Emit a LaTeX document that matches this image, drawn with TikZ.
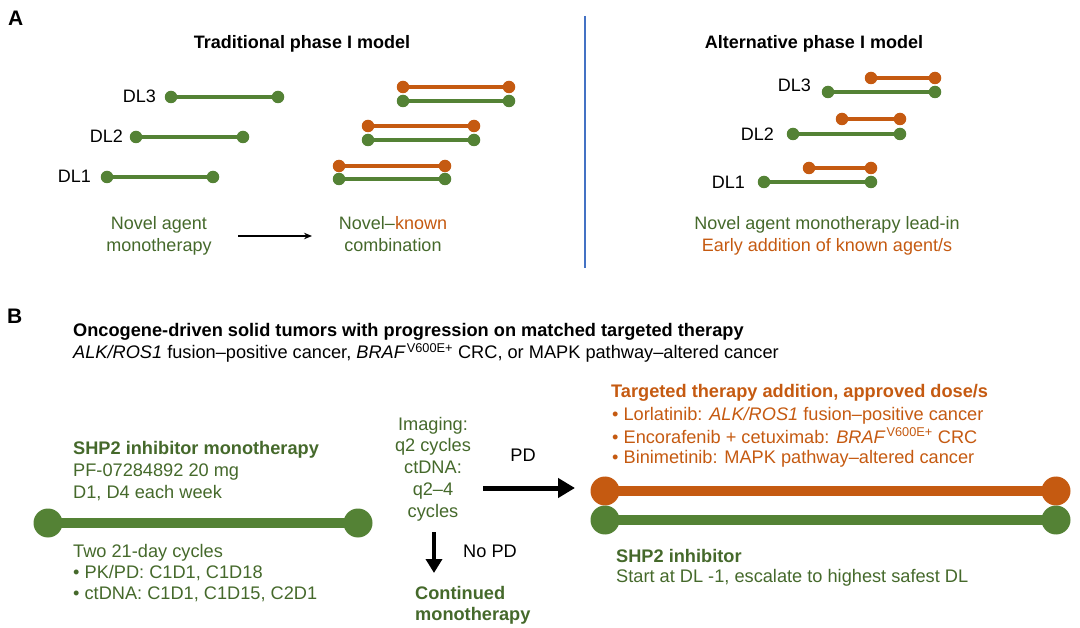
\documentclass[tikz,border=0pt]{standalone}
\usepackage{fontspec}
\setmainfont{Liberation Sans}
\usetikzlibrary{arrows.meta}
\definecolor{barg}{HTML}{548235}
\definecolor{baro}{HTML}{C55A11}
\definecolor{txtg}{HTML}{45692B}
\definecolor{txto}{HTML}{C55A11}
\definecolor{sepblue}{HTML}{4472C4}
\newcommand\dosebar[6]{%
  \coordinate (#1a) at (#2,#4);
  \coordinate (#1b) at (#3,#4);
  \draw[#6bar=#5] (#1a) -- (#1b);
  \node[#6dot=#5] (#1da) at (#1a) {};
  \node[#6dot=#5] (#1db) at (#1b) {};}
\begin{document}
\begin{tikzpicture}[x=1pt,y=-1pt,
  sdot/.style={circle,fill=#1,inner sep=0pt,minimum size=12.5pt},
  ldot/.style={circle,fill=#1,inner sep=0pt,minimum size=29pt},
  sbar/.style={draw=#1,line width=4.5pt},
  lbar/.style={draw=#1,line width=10pt},
  fa/.style={font=\fontsize{18}{21}\selectfont,inner sep=0pt},
  fab/.style={font=\fontsize{18}{21}\selectfont\bfseries,inner sep=0pt},
  fb/.style={font=\fontsize{18.2}{21}\selectfont,inner sep=0pt},
  fbb/.style={font=\fontsize{18.2}{21}\selectfont\bfseries,inner sep=0pt},
  panel/.style={font=\fontsize{21}{21}\selectfont\bfseries,inner sep=0pt,anchor=base west},
  bigarrow/.style={line width=5pt,-{Triangle[length=17pt,width=19pt]}},
  downarrow/.style={line width=4.5pt,-{Triangle[length=14pt,width=16pt]}}]
\useasboundingbox (0,0) rectangle (1080,628);

% ---------- Panel A ----------
\node[panel] (labA) at (8,26) {A};
\node[fab,anchor=base] (titT) at (302,49) {Traditional phase I model};
\node[fab,anchor=base] (titA) at (814,49) {Alternative phase I model};

\coordinate (sepT) at (585,16);
\coordinate (sepB) at (585,268);
\draw[sepblue,line width=2pt] (sepT) -- (sepB);

% traditional monotherapy
\dosebar{ta3}{171}{278}{97}{barg}{s}
\dosebar{ta2}{136}{243}{137}{barg}{s}
\dosebar{ta1}{107}{213}{177}{barg}{s}
\node[fa,anchor=base east] (lt3) at (156,103) {DL3};
\node[fa,anchor=base east] (lt2) at (123,143) {DL2};
\node[fa,anchor=base east] (lt1) at (91,183) {DL1};

% traditional combination
\dosebar{to3}{403}{509}{87}{baro}{s}
\dosebar{tg3}{403}{509}{101}{barg}{s}
\dosebar{to2}{368}{474}{126}{baro}{s}
\dosebar{tg2}{368}{474}{140}{barg}{s}
\dosebar{to1}{339}{445}{166}{baro}{s}
\dosebar{tg1}{339}{445}{179}{barg}{s}

\node[fa,anchor=base,text=txtg] (nov1) at (159,230) {Novel agent};
\node[fa,anchor=base,text=txtg] (nov2) at (159,252) {monotherapy};
\node[fa,anchor=base,text=txtg] (com1) at (393,230) {Novel–\textcolor{txto}{known}};
\node[fa,anchor=base,text=txtg] (com2) at (393,252) {combination};
\coordinate (arA1) at (238,236);
\coordinate (arA2) at (312,236);
\draw[line width=1.2pt,-{Stealth[length=8pt,width=6.5pt]}] (arA1) -- (arA2);

% alternative
\dosebar{ao3}{871}{935}{78}{baro}{s}
\dosebar{ag3}{828}{935}{92}{barg}{s}
\dosebar{ao2}{842}{900}{119}{baro}{s}
\dosebar{ag2}{793}{900}{134}{barg}{s}
\dosebar{ao1}{809}{871}{168}{baro}{s}
\dosebar{ag1}{764}{871}{182}{barg}{s}
\node[fa,anchor=base east] (la3) at (811,92) {DL3};
\node[fa,anchor=base east] (la2) at (774,141) {DL2};
\node[fa,anchor=base east] (la1) at (745,189) {DL1};
\node[fa,anchor=base,text=txtg] (alt1) at (827,230) {Novel agent monotherapy lead-in};
\node[fa,anchor=base,text=txto] (alt2) at (827,252) {Early addition of known agent/s};

% ---------- Panel B ----------
\node[panel] (labB) at (7,324) {B};
\node[fbb,anchor=base west] (hd1) at (73,337) {Oncogene-driven solid tumors with progression on matched targeted therapy};
\node[fb,anchor=base west] (hd2) at (73,359) {\textit{ALK/ROS1} fusion–positive cancer, \textit{BRAF}\kern1pt\textsuperscript{V600E+} CRC, or MAPK pathway–altered cancer};

\node[fbb,anchor=base west,text=txtg] (m1) at (73,455) {SHP2 inhibitor monotherapy};
\node[fb,anchor=base west,text=txtg] (m2) at (73,477) {PF-07284892 20 mg};
\node[fb,anchor=base west,text=txtg] (m3) at (73,498) {D1, D4 each week};
\dosebar{mono}{48}{358}{523}{barg}{l}
\node[fb,anchor=base west,text=txtg] (m4) at (73,557) {Two 21-day cycles};
\node[fb,anchor=base west,text=txtg] (m5) at (73,578) {• PK/PD: C1D1, C1D18};
\node[fb,anchor=base west,text=txtg] (m6) at (73,599) {• ctDNA: C1D1, C1D15, C2D1};

\node[fb,anchor=base,text=txtg] (im1) at (433,431) {Imaging:};
\node[fb,anchor=base,text=txtg] (im2) at (433,452) {q2 cycles};
\node[fb,anchor=base,text=txtg] (im3) at (433,474) {ctDNA:};
\node[fb,anchor=base,text=txtg] (im4) at (433,495) {q2–4};
\node[fb,anchor=base,text=txtg] (im5) at (433,517) {cycles};

\coordinate (pdA) at (483,488);
\coordinate (pdB) at (575,488);
\draw[bigarrow] (pdA) -- (pdB);
\node[fb,anchor=base] (pd) at (523,461) {PD};

\coordinate (npA) at (434,532);
\coordinate (npB) at (434,573);
\draw[downarrow] (npA) -- (npB);
\node[fb,anchor=base west] (nopd) at (463,557) {No PD};
\node[fbb,anchor=base west,text=txtg] (cm1) at (415,599) {Continued};
\node[fbb,anchor=base west,text=txtg] (cm2) at (415,620) {monotherapy};

\node[fbb,anchor=base west,text=txto] (tt1) at (611,398) {Targeted therapy addition, approved dose/s};
\node[fb,anchor=base west,text=txto] (tt2) at (612,421) {• Lorlatinib: \textit{ALK/ROS1} fusion–positive cancer};
\node[fb,anchor=base west,text=txto] (tt3) at (612,443) {• Encorafenib + cetuximab: \textit{BRAF}\kern1pt\textsuperscript{V600E+} CRC};
\node[fb,anchor=base west,text=txto] (tt4) at (612,464) {• Binimetinib: MAPK pathway–altered cancer};
\dosebar{combo}{605}{1056}{491}{baro}{l}
\dosebar{combg}{605}{1056}{520}{barg}{l}
\node[fbb,anchor=base west,text=txtg] (sh1) at (616,562) {SHP2 inhibitor};
\node[fb,anchor=base west,text=txtg] (sh2) at (616,582) {Start at DL -1, escalate to highest safest DL};
\end{tikzpicture}
\end{document}
